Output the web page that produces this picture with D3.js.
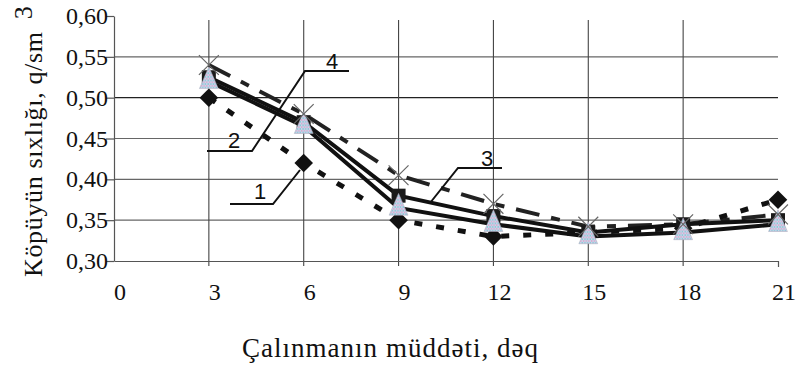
<!DOCTYPE html>
<html>
<head>
<meta charset="utf-8">
<script src="https://cdn.jsdelivr.net/npm/d3@7"></script>
<style>
  html, body { margin: 0; padding: 0; background: #fff; }
  svg { display: block; }
  text { font-family: "Liberation Serif", "Times New Roman", serif; fill: #111; }
  text.callout { font-family: "Liberation Sans", Arial, sans-serif; }
</style>
</head>
<body>
<svg id="chart" width="800" height="371"></svg>
<script>
// Foam density over whipping time, four samples
const minutes = [3, 6, 9, 12, 15, 18, 21];
const xTicks = [0, 3, 6, 9, 12, 15, 18, 21];
const yTicks = [0.30, 0.35, 0.40, 0.45, 0.50, 0.55, 0.60];

const series1 = [0.50, 0.42, 0.35, 0.33, 0.335, 0.34, 0.375];   // diamonds, short dashes
const series2 = [0.52, 0.465, 0.365, 0.345, 0.33, 0.335, 0.345]; // triangles, solid
const series3 = [0.525, 0.47, 0.38, 0.355, 0.335, 0.345, 0.35];  // squares, solid
const series4 = [0.54, 0.48, 0.405, 0.37, 0.342, 0.345, 0.357];  // crosses, long dashes

const xTitle = "Çalınmanın müddəti, dəq";
const yTitle = "Köpüyün sıxlığı, q/sm";
const yTitleSup = "3";

const svg = d3.select("#chart");
const x = d3.scaleLinear().domain([0, 21]).range([114, 778]);
const y = d3.scaleLinear().domain([0.30, 0.60]).range([261, 16]);
const fmt = d3.formatLocale({ decimal: ",", thousands: " ", grouping: [3], currency: ["", ""] }).format(".2f");

// horizontal grid lines
svg.append("g").selectAll("line")
  .data(yTicks.filter(v => v > 0.30 && v < 0.60))
  .join("line")
  .attr("x1", x(0)).attr("x2", x(21))
  .attr("y1", d => y(d)).attr("y2", d => y(d))
  .attr("stroke", d => d === 0.50 ? "#222" : "#666")
  .attr("stroke-width", 1.1);

// vertical grid lines
svg.append("g").selectAll("line")
  .data(xTicks.filter(v => v > 0 && v < 21))
  .join("line")
  .attr("x1", d => x(d)).attr("x2", d => x(d))
  .attr("y1", 20).attr("y2", y(0.30) + 5)
  .attr("stroke", "#444")
  .attr("stroke-width", 1.1);

// axes
const yAxis = svg.append("g")
  .attr("transform", `translate(${x(0)},0)`)
  .call(d3.axisLeft(y).tickValues(yTicks).tickSize(8).tickSizeOuter(0).tickFormat(""));
const xAxis = svg.append("g")
  .attr("transform", `translate(0,${y(0.30)})`)
  .call(d3.axisBottom(x).tickValues([21]).tickSize(6).tickSizeOuter(0).tickFormat(""));
[yAxis, xAxis].forEach(a => {
  a.selectAll("path, line").attr("stroke", "#555").attr("stroke-width", 1.2);
});

// tick labels
svg.append("g").selectAll("text")
  .data(yTicks)
  .join("text")
  .attr("x", 108)
  .attr("y", d => y(d) + 8)
  .attr("text-anchor", "end")
  .attr("font-size", 24)
  .text(d => fmt(d));

svg.append("g").selectAll("text")
  .data(xTicks)
  .join("text")
  .attr("x", d => x(d) + 6)
  .attr("y", 300)
  .attr("text-anchor", "middle")
  .attr("font-size", 24)
  .text(d => d);

// axis titles
svg.append("text")
  .attr("x", 390).attr("y", 357)
  .attr("text-anchor", "middle")
  .attr("font-size", 27)
  .attr("textLength", 296)
  .text(xTitle);

const yt = svg.append("text")
  .attr("transform", "translate(42,277) rotate(-90)")
  .attr("font-size", 26)
  .attr("fill", "#2a2218");
yt.append("tspan").attr("textLength", 245).text(yTitle);
yt.append("tspan").attr("dx", 12).attr("dy", -10).text(yTitleSup);

// series lines
const line = d3.line().x((d, i) => x(minutes[i])).y(d => y(d));

svg.append("path").datum(series4).attr("d", line)
  .attr("fill", "none").attr("stroke", "#222").attr("stroke-width", 4)
  .attr("stroke-dasharray", "24,12,9,12");
svg.append("path").datum(series1).attr("d", line)
  .attr("fill", "none").attr("stroke", "#111").attr("stroke-width", 5)
  .attr("stroke-dasharray", "8,14");
svg.append("path").datum(series3).attr("d", line)
  .attr("fill", "none").attr("stroke", "#111").attr("stroke-width", 4);
svg.append("path").datum(series2).attr("d", line)
  .attr("fill", "none").attr("stroke", "#111").attr("stroke-width", 4);

// markers
svg.append("g").selectAll("path")
  .data(series1).join("path")
  .attr("transform", (d, i) => `translate(${x(minutes[i])},${y(d)})`)
  .attr("d", d3.symbol(d3.symbolDiamond2, 220)())
  .attr("fill", "#111");

svg.append("g").selectAll("rect")
  .data(series3).join("rect")
  .attr("x", (d, i) => x(minutes[i]) - 7).attr("y", d => y(d) - 7)
  .attr("width", 14).attr("height", 14)
  .attr("fill", "#1a1a1a");

const defs = svg.append("defs");
const pat = defs.append("pattern").attr("id", "tri").attr("width", 3).attr("height", 3)
  .attr("patternUnits", "userSpaceOnUse");
pat.append("rect").attr("width", 3).attr("height", 3).attr("fill", "#c9d8ea");
pat.append("rect").attr("width", 1.5).attr("height", 1.5).attr("fill", "#d9a9cf");
pat.append("rect").attr("x", 1.5).attr("y", 1.5).attr("width", 1.5).attr("height", 1.5).attr("fill", "#8fc3d6");

svg.append("g").selectAll("path")
  .data(series2).join("path")
  .attr("transform", (d, i) => `translate(${x(minutes[i])},${y(d)}) scale(0.9,1.2)`)
  .attr("d", d3.symbol(d3.symbolTriangle, 190)())
  .attr("fill", "url(#tri)")
  .attr("stroke", "#aab")
  .attr("stroke-width", 0.5);

svg.append("g").selectAll("path")
  .data(series4).join("path")
  .attr("transform", (d, i) => `translate(${x(minutes[i])},${y(d)})`)
  .attr("d", d3.symbol(d3.symbolX, 260)())
  .attr("fill", "none")
  .attr("stroke", "#666").attr("stroke-width", 1.2);

// numbered callouts with leader lines
const callouts = g => g.attr("fill", "none").attr("stroke", "#111").attr("stroke-width", 2);
svg.append("path").call(callouts)
  .attr("d", d3.line()([[349, 71], [305, 71], [252, 151], [207, 151]]));
svg.append("path").call(callouts)
  .attr("d", d3.line()([[230, 204], [273, 204], [300, 170]]));
svg.append("path").call(callouts)
  .attr("d", d3.line()([[502, 168], [458, 168], [430, 203]]));

const labels = [
  { t: "4", x: 332, y: 69 },
  { t: "2", x: 234, y: 148 },
  { t: "1", x: 260, y: 199 },
  { t: "3", x: 487, y: 166 }
];
svg.append("g").selectAll("text")
  .data(labels).join("text")
  .attr("class", "callout")
  .attr("x", d => d.x).attr("y", d => d.y)
  .attr("text-anchor", "middle")
  .attr("font-size", 22)
  .text(d => d.t);
</script>
</body>
</html>
